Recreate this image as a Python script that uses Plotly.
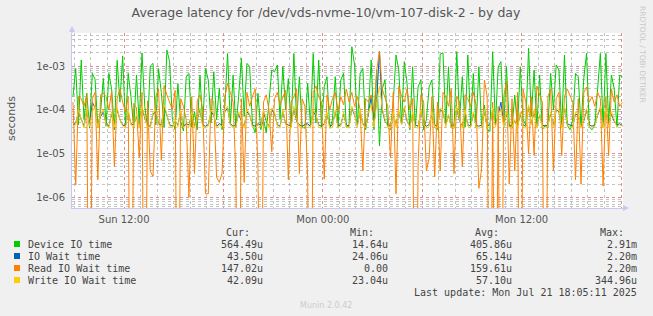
import pandas as pd
import plotly.graph_objects as go

# ---- data (microseconds, 10-minute steps, Sun 2025-07-20 08:55 .. Mon 2025-07-21 18:05) ----
start_time = "2025-07-20 08:55"
step = "10min"

device_io = [
    200, 880, 45, 1370, 60, 240, 38, 680, 500, 40,
    90, 520, 42, 680, 300, 35, 1350, 150, 1700, 45,
    680, 200, 38, 620, 50, 2000, 120, 40, 1000, 1150,
    45, 860, 250, 40, 2320, 1260, 60, 35, 400, 55,
    33, 560, 680, 40, 90, 35, 620, 45, 880, 480,
    50, 740, 60, 310, 35, 120, 1940, 45, 620, 40,
    200, 1500, 70, 1150, 965, 45, 30, 237, 35, 60,
    30, 150, 810, 740, 1050, 60, 965, 100, 520, 40,
    1940, 55, 570, 40, 38, 400, 45, 1940, 50, 1370,
    40, 335, 570, 38, 60, 570, 40, 480, 680, 40,
    45, 2760, 1050, 40, 680, 880, 35, 90, 1370, 35,
    810, 15, 300, 480, 40, 35, 150, 1790, 810, 45,
    1260, 400, 35, 965, 40, 335, 480, 35, 60, 335,
    480, 40, 35, 1880, 2000, 50, 965, 40, 38, 2130,
    60, 570, 40, 1790, 45, 680, 40, 965, 40, 128,
    35, 32, 2130, 45, 965, 1260, 40, 965, 45, 38,
    217, 40, 965, 60, 45, 2540, 70, 810, 40, 620,
    35, 45, 40, 680, 100, 1050, 810, 40, 1790, 45,
    35, 60, 680, 570, 40, 520, 1940, 40, 35, 45,
    335, 1940, 40, 1940, 50, 620, 310, 40, 620, 564.49,
]

io_wait = [
    45, 50, 90, 60, 42, 100, 45, 150, 110, 45,
    70, 90, 48, 42, 80, 45, 100, 60, 45, 42,
    90, 48, 45, 70, 42, 110, 65, 45, 42, 80,
    90, 48, 45, 120, 75, 46, 42, 55, 45, 90,
    42, 48, 45, 80, 42, 65, 100, 45, 42, 46,
    90, 75, 42, 48, 45, 90, 110, 48, 42, 45,
    80, 55, 42, 90, 75, 45, 42, 48, 45, 90,
    55, 42, 100, 80, 46, 42, 90, 48, 45, 42,
    110, 55, 45, 42, 46, 48, 42, 90, 75, 45,
    42, 48, 80, 42, 45, 90, 42, 46, 80, 45,
    42, 110, 75, 45, 90, 48, 42, 80, 200, 45,
    170, 2200, 100, 55, 45, 42, 80, 45, 90, 48,
    110, 55, 42, 80, 45, 42, 90, 48, 42, 46,
    80, 45, 42, 100, 90, 45, 75, 42, 45, 110,
    55, 42, 90, 46, 42, 80, 45, 42, 45, 90,
    42, 46, 100, 45, 75, 150, 45, 80, 42, 45,
    55, 42, 80, 45, 42, 120, 48, 90, 42, 75,
    45, 42, 46, 80, 45, 100, 90, 42, 110, 48,
    45, 42, 80, 75, 42, 55, 100, 45, 42, 46,
    75, 110, 42, 100, 45, 80, 55, 45, 48, 43.50,
]

read_io_wait = [
    150, 1.9, 200, 180, 120, 220, 0, 180, 250, 2.5,
    220, 240, 200, 100, 260, 5, 180, 300, 150, 90,
    200, 0, 140, 110, 8, 250, 0, 160, 4, 3,
    200, 300, 7, 360, 220, 150, 100, 280, 0, 180,
    120, 60, 1, 200, 3.5, 160, 220, 100, 1.2, 1.2,
    180, 150, 2.9, 2.2, 3.5, 200, 400, 250, 150, 3.3,
    0, 180, 2.2, 250, 120, 200, 300, 4.5, 0, 150,
    220, 100, 11, 180, 250, 130, 200, 280, 2.5, 150,
    200, 300, 3.5, 180, 120, 2.9, 0, 250, 350, 200,
    150, 2.6, 220, 100, 180, 250, 90, 200, 130, 300,
    150, 250, 120, 200, 100, 4, 180, 150, 220, 90,
    800, 2200, 300, 200, 120, 8, 250, 1.2, 350, 200,
    150, 300, 100, 180, 0, 6, 220, 150, 4, 8,
    200, 2.9, 150, 4, 250, 200, 120, 300, 3.5, 200,
    150, 5, 220, 180, 120, 250, 130, 1.6, 4.5, 480,
    200, 0, 150, 0, 120, 0, 200, 440, 2, 180,
    4, 250, 0, 300, 150, 10, 200, 9, 350, 220,
    150, 0, 200, 300, 4, 180, 250, 9, 200, 300,
    220, 150, 2.5, 180, 2, 250, 330, 150, 200, 120,
    250, 180, 1.8, 200, 9, 300, 150, 220, 120, 147.02,
]

write_io_wait = [
    40, 45, 100, 60, 38, 110, 42, 90, 120, 40,
    80, 100, 45, 38, 90, 40, 110, 60, 42, 38,
    100, 45, 40, 80, 38, 120, 70, 40, 38, 90,
    100, 45, 40, 130, 80, 42, 38, 60, 40, 100,
    38, 45, 40, 90, 38, 70, 110, 40, 38, 42,
    100, 80, 38, 45, 40, 100, 120, 45, 38, 40,
    90, 60, 38, 100, 80, 40, 38, 45, 40, 100,
    60, 38, 110, 90, 42, 38, 100, 45, 40, 38,
    120, 60, 40, 38, 42, 45, 38, 100, 80, 40,
    38, 45, 90, 38, 40, 100, 38, 42, 90, 40,
    38, 120, 80, 40, 100, 45, 38, 90, 130, 40,
    150, 344.96, 110, 60, 40, 38, 90, 40, 100, 45,
    120, 60, 38, 90, 40, 38, 100, 45, 38, 42,
    90, 40, 38, 110, 100, 40, 80, 38, 40, 120,
    60, 38, 100, 42, 38, 90, 40, 38, 40, 100,
    38, 42, 110, 40, 80, 100, 40, 90, 38, 40,
    60, 38, 90, 40, 38, 130, 45, 100, 38, 80,
    40, 38, 42, 90, 40, 110, 100, 38, 120, 45,
    40, 38, 90, 80, 38, 60, 110, 40, 38, 42,
    80, 120, 38, 110, 40, 90, 60, 40, 45, 42.09,
]

series_names = ["Device IO time", "IO Wait time", "Read IO Wait time", "Write IO Wait time"]
series_colors = ["#00CC00", "#0066B3", "#FF8000", "#FFCC00"]
series_values = [device_io, io_wait, read_io_wait, write_io_wait]

col_headers = ["Cur:", "Min:", "Avg:", "Max:"]
cur_text = ["564.49u", "43.50u", "147.02u", "42.09u"]
min_text = ["14.64u", "24.06u", "0.00", "23.04u"]
avg_text = ["405.86u", "65.14u", "159.61u", "57.10u"]
max_text = ["2.91m", "2.20m", "2.20m", "344.96u"]

x_tick_vals = ["2025-07-20 12:00", "2025-07-20 18:00", "2025-07-21 00:00",
               "2025-07-21 06:00", "2025-07-21 12:00", "2025-07-21 18:00"]
x_tick_text = ["Sun 12:00", "", "Mon 00:00", "", "Mon 12:00", ""]
y_tick_vals = [1e-6, 1e-5, 1e-4, 1e-3]
y_tick_text = ["1e-06", "1e-05", "1e-04", "1e-03"]

title = "Average latency for /dev/vds-nvme-10/vm-107-disk-2 - by day"
y_title = "seconds"
last_update = "Last update: Mon Jul 21 18:05:11 2025"

# ---- figure ----
W, H = 653, 316
PL, PR, PT, PB = 72, 623, 33, 208  # plot area in pixels


def px(xp):
    return (xp - PL) / (PR - PL)


def py(yp):
    return (PB - yp) / (PB - PT)


fig = go.Figure()
for name, color, vals in zip(series_names, series_colors, series_values):
    t = pd.date_range(start_time, periods=len(vals), freq=step)
    # values are microseconds; zeros drawn below the log axis like rrdtool
    y = [v * 1e-6 if v > 0 else 1e-12 for v in vals]
    fig.add_trace(go.Scatter(x=t, y=y, mode="lines", name=name,
                             line=dict(color=color, width=1),
                             showlegend=False))

grey = "#555555"
major_grid = "rgba(235,120,120,0.75)"
minor_grid = "rgba(170,170,170,0.7)"

fig.update_layout(
    width=W, height=H,
    margin=dict(l=PL, r=W - PR, t=PT, b=H - PB),
    paper_bgcolor="#F0F0F0", plot_bgcolor="#FFFFFF",
    font=dict(family="DejaVu Sans", size=10, color=grey),
    title=dict(text=title, x=px(326), xref="paper", xanchor="center", y=1 - 13 / H,
               yanchor="middle", font=dict(family="DejaVu Sans", size=12.5, color=grey)),
    showlegend=False,
)
fig.update_xaxes(
    type="date", automargin=False,
    range=["2025-07-20 08:51:30", "2025-07-21 18:07:00"],
    tickmode="array", tickvals=x_tick_vals, ticktext=x_tick_text,
    showgrid=True, gridcolor=major_grid, griddash="dot", gridwidth=1,
    minor=dict(dtick=3600000, tick0="2025-07-20 09:00", showgrid=True,
               gridcolor=minor_grid, griddash="dot", gridwidth=1),
    showline=True, linecolor="#C8C8F0", linewidth=1,
    ticks="", ticklabelstandoff=2, zeroline=False,
    tickfont=dict(size=10, color=grey),
)
fig.update_yaxes(
    type="log", automargin=False, range=[-6.245, -2.245],
    tickmode="array", tickvals=y_tick_vals, ticktext=y_tick_text,
    showgrid=True, gridcolor=major_grid, griddash="dot", gridwidth=1,
    minor=dict(dtick="D1", showgrid=True, gridcolor=minor_grid, griddash="dot", gridwidth=1),
    showline=True, linecolor="#C8C8F0", linewidth=1,
    ticks="", ticklabelstandoff=4, zeroline=False,
    tickfont=dict(size=10, color=grey),
)

ann = []
mono = dict(family="DejaVu Sans Mono", size=10, color="#444444")
header_right = [251.5, 376, 500.5, 625.5]
value_right = [264.5, 389.5, 514, 639]
for xr, h in zip(header_right, col_headers):
    ann.append(dict(x=px(xr), y=py(232), text=h))
rows_y = [244, 256, 268, 280]
shapes = []
for i, (name, color) in enumerate(zip(series_names, series_colors)):
    yy = rows_y[i]
    ann.append(dict(x=px(26), y=py(yy), text=name, xanchor="left"))
    for xr, col in zip(value_right, [cur_text, min_text, avg_text, max_text]):
        ann.append(dict(x=px(xr), y=py(yy), text=col[i]))
    shapes.append(dict(type="rect", xref="paper", yref="paper",
                       x0=px(14), x1=px(20), y0=py(yy + 3), y1=py(yy - 3),
                       fillcolor=color, line=dict(width=0)))
ann.append(dict(x=px(639), y=py(292), text=last_update))
annotations = []
for a in ann:
    d = dict(xref="paper", yref="paper", showarrow=False, yanchor="middle",
             xanchor="right", font=mono)
    d.update(a)
    annotations.append(d)
annotations.append(dict(xref="paper", yref="paper", x=px(11), y=py(119), text=y_title,
                        showarrow=False, xanchor="center", yanchor="middle", textangle=-90,
                        font=dict(family="DejaVu Sans", size=11, color=grey)))
annotations.append(dict(xref="paper", yref="paper", x=px(326), y=py(305), text="Munin 2.0.42",
                        showarrow=False, xanchor="center", yanchor="middle",
                        font=dict(family="DejaVu Sans", size=8, color="#CCCCCC")))
annotations.append(dict(xref="paper", yref="paper", x=px(643), y=py(54), text="RRDTOOL / TOBI OETIKER",
                        showarrow=False, xanchor="center", yanchor="middle", textangle=90,
                        font=dict(family="DejaVu Sans", size=7.5, color="#C8C8C8")))

# axis arrows (rrdtool style)
shapes.append(dict(type="path", xref="paper", yref="paper",
                   path=f"M {px(623)} {py(205)} L {px(629)} {py(208)} L {px(623)} {py(211)} Z",
                   fillcolor="#C8C8F0", line=dict(width=0)))
shapes.append(dict(type="line", xref="paper", yref="paper",
                   x0=px(72), x1=px(72), y0=py(33), y1=py(30), line=dict(color="#C8C8F0", width=1)))
shapes.append(dict(type="path", xref="paper", yref="paper",
                   path=f"M {px(69)} {py(32)} L {px(72)} {py(26)} L {px(75)} {py(32)} Z",
                   fillcolor="#C8C8F0", line=dict(width=0)))

fig.update_layout(annotations=annotations, shapes=shapes)
fig.write_html("out.html")
